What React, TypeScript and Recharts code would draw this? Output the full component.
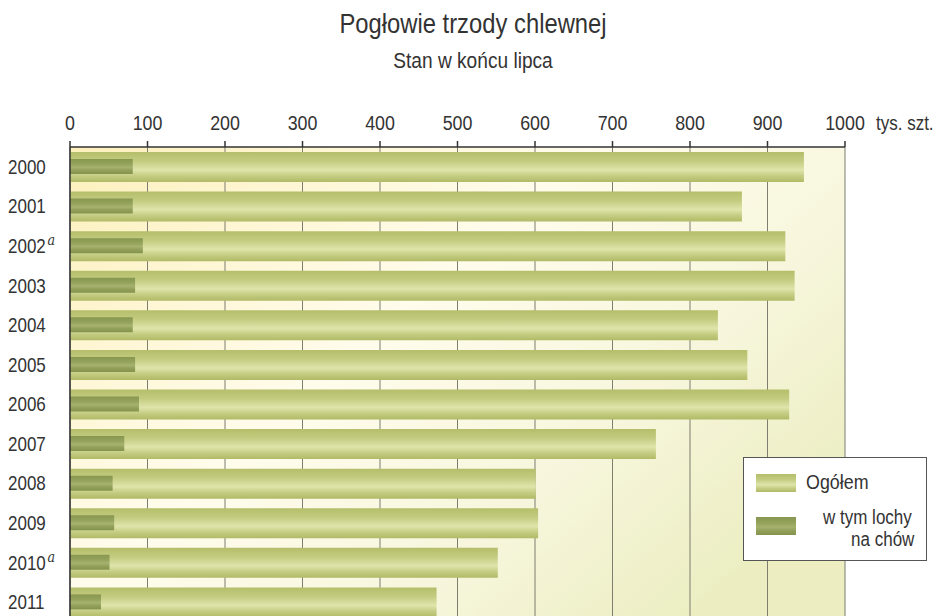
import React from 'react';
import { BarChart, Bar, XAxis, YAxis, CartesianGrid, Legend } from 'recharts';

const years = ['2000', '2001', '2002', '2003', '2004', '2005', '2006', '2007', '2008', '2009', '2010', '2011'];
const notes = ['', '', 'a', '', '', '', '', '', '', '', 'a', ''];
const totals = [947, 867, 923, 935, 836, 874, 928, 756, 601, 604, 552, 473];
const sows = [81, 81, 94, 84, 81, 84, 89, 70, 55, 57, 51, 40];
const xTicks = [0, 100, 200, 300, 400, 500, 600, 700, 800, 900, 1000];

const title = 'Pogłowie trzody chlewnej';
const subtitle = 'Stan w końcu lipca';
const unit = 'tys. szt.';
const totalName = 'Ogółem';
const sowsName = 'w tym lochy na chów';

const data = years.map((y, i) => ({ year: y, note: notes[i], total: totals[i], sows: sows[i] }));

const FONT = "'Liberation Sans', Arial, sans-serif";
const SX = 0.85;

const XTick = (props: any) => {
  const { x, y, payload } = props;
  return (
    <g>
      <text
        transform={`translate(${x} ${y}) scale(${SX} 1)`}
        x={0}
        y={0}
        textAnchor="middle"
        fontFamily={FONT}
        fontSize={21}
        fill="#333"
      >
        {payload.value}
      </text>
      {payload.value === 1000 ? (
        <text
          transform={`translate(${x + 31} ${y}) scale(${SX} 1)`}
          x={0}
          y={0}
          textAnchor="start"
          fontFamily={FONT}
          fontSize={20}
          fill="#333"
        >
          {unit}
        </text>
      ) : null}
    </g>
  );
};

const YTick = (props: any) => {
  const { y, payload, index } = props;
  const note = notes[index] || '';
  return (
    <g>
      <text
        transform={`translate(8 ${y + 7}) scale(${SX} 1)`}
        x={0}
        y={0}
        textAnchor="start"
        fontFamily={FONT}
        fontSize={20}
        fill="#333"
      >
        {payload.value}
        {note ? (
          <tspan dx={2} dy={-8} fontFamily="'DejaVu Serif', serif" fontStyle="italic" fontSize={15}>
            {note}
          </tspan>
        ) : null}
      </text>
    </g>
  );
};

const totalGrad = 'linear-gradient(to bottom, #b5be6a 0%, #c3cb80 30%, #dfe4aa 60%, #c4cc82 80%, #b1ba66 100%)';
const sowsGrad = 'linear-gradient(to bottom, #88974f 0%, #95a35c 35%, #a6b26e 55%, #93a05a 75%, #84934c 100%)';

const narrow = (origin: string): React.CSSProperties => ({
  transform: `scaleX(${SX})`,
  transformOrigin: origin,
});

const LegendBox = () => (
  <div
    style={{
      width: 184,
      height: 104,
      background: '#fff',
      border: '1px solid #555',
      boxSizing: 'border-box',
      position: 'relative',
      fontFamily: FONT,
      color: '#333',
    }}
  >
    <div style={{ position: 'absolute', left: 12, top: 16, width: 40, height: 18, background: totalGrad }} />
    <div style={{ position: 'absolute', left: 62, top: 12, fontSize: 21, lineHeight: '24px', whiteSpace: 'nowrap', ...narrow('left center') }}>
      {totalName}
    </div>
    <div style={{ position: 'absolute', left: 12, top: 59, width: 40, height: 18, background: sowsGrad }} />
    <div
      style={{
        position: 'absolute',
        left: 79,
        top: 48,
        fontSize: 20,
        lineHeight: '22px',
        whiteSpace: 'nowrap',
        ...narrow('left center'),
      }}
    >
      w tym lochy
      <br />
      <span style={{ marginLeft: 33 }}>na chów</span>
    </div>
  </div>
);

export default function App() {
  return (
    <div style={{ position: 'absolute', left: 0, top: 0, width: 939, height: 616, overflow: 'hidden', background: '#fff' }}>
      <div
        style={{
          position: 'absolute',
          left: 0,
          top: 8,
          width: 946,
          textAlign: 'center',
          fontFamily: FONT,
          fontSize: 28,
          color: '#333',
          lineHeight: '32px',
          ...narrow('center center'),
        }}
      >
        {title}
      </div>
      <div
        style={{
          position: 'absolute',
          left: 0,
          top: 48,
          width: 946,
          textAlign: 'center',
          fontFamily: FONT,
          fontSize: 22.5,
          color: '#333',
          lineHeight: '26px',
          ...narrow('center center'),
        }}
      >
        {subtitle}
      </div>
      <div style={{ position: 'absolute', left: 0, top: 0 }}>
        <BarChart
          width={939}
          height={632}
          data={data}
          layout="vertical"
          margin={{ top: 107, right: 94, bottom: 10, left: 8 }}
        >
          <defs>
            <linearGradient id="bgGrad" x1="0" y1="0" x2="1" y2="0.7">
              <stop offset="0%" stopColor="#fdf0bc" />
              <stop offset="45%" stopColor="#fffcec" />
              <stop offset="75%" stopColor="#f7f6dc" />
              <stop offset="100%" stopColor="#eceec2" />
            </linearGradient>
            <linearGradient id="totalGrad" x1="0" y1="0" x2="0" y2="1">
              <stop offset="0%" stopColor="#b5be6a" />
              <stop offset="30%" stopColor="#c3cb80" />
              <stop offset="60%" stopColor="#dfe4aa" />
              <stop offset="80%" stopColor="#c4cc82" />
              <stop offset="100%" stopColor="#b1ba66" />
            </linearGradient>
            <linearGradient id="sowsGrad" x1="0" y1="0" x2="0" y2="1">
              <stop offset="0%" stopColor="#88974f" />
              <stop offset="35%" stopColor="#95a35c" />
              <stop offset="55%" stopColor="#a6b26e" />
              <stop offset="75%" stopColor="#93a05a" />
              <stop offset="100%" stopColor="#84934c" />
            </linearGradient>
          </defs>
          <CartesianGrid
            horizontal={false}
            vertical={true}
            stroke="#7d7d70"
            strokeWidth={1}
            fill="url(#bgGrad)"
            fillOpacity={1}
          />
          <XAxis
            type="number"
            orientation="top"
            domain={[0, 1000]}
            ticks={xTicks}
            interval={0}
            height={40}
            tickSize={6}
            tickMargin={11}
            axisLine={{ stroke: '#333', strokeWidth: 1.5 }}
            tickLine={{ stroke: '#333', strokeWidth: 1.5 }}
            tick={<XTick />}
          />
          <YAxis
            yAxisId="a"
            type="category"
            dataKey="year"
            width={62}
            axisLine={{ stroke: '#333', strokeWidth: 1.5 }}
            tickLine={false}
            tick={<YTick />}
            interval={0}
          />
          <YAxis yAxisId="b" type="category" dataKey="year" hide />
          <Bar yAxisId="a" dataKey="total" name={totalName} fill="url(#totalGrad)" barSize={30} isAnimationActive={false} />
          <Bar yAxisId="b" dataKey="sows" name={sowsName} fill="url(#sowsGrad)" barSize={15} isAnimationActive={false} />
          <Legend
            layout="vertical"
            align="center"
            verticalAlign="middle"
            content={() => <LegendBox />}
            wrapperStyle={{ position: 'absolute', left: 743, top: 457, width: 184, height: 104 }}
          />
        </BarChart>
      </div>
    </div>
  );
}
